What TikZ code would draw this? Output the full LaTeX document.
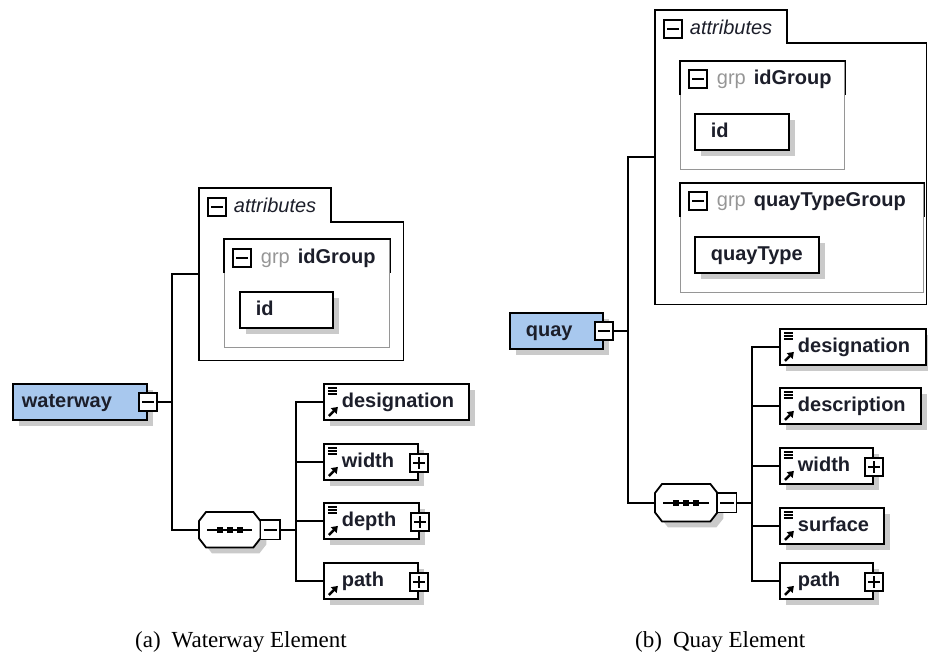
\documentclass[tikz,border=0pt]{standalone}
\usepackage{fontspec}
\setmainfont{Liberation Serif}
\setsansfont{Liberation Sans}
\usetikzlibrary{positioning}
\usetikzlibrary{shadows}
\usetikzlibrary{arrows.meta}

\definecolor{elemblue}{RGB}{168,200,238}
\definecolor{shadowgray}{RGB}{202,202,202}
\definecolor{grpgray}{RGB}{150,150,150}
\definecolor{ink}{RGB}{28,30,42}
\newcommand\xsdfont{\sffamily\fontsize{20}{24}\selectfont}

\tikzset{
  shadowed/.style={drop shadow={shadow xshift=6pt, shadow yshift=-6pt, fill=shadowgray, opacity=1}},
  xsdbox/.style={draw=black, line width=1.8pt, fill=white, anchor=north west,
    inner xsep=0pt, inner ysep=0pt, text width=#1, align=left,
    minimum height=36pt, text height=15pt, text depth=4pt,
    font=\xsdfont\bfseries, text=ink, shadowed},
  rootbox/.style={xsdbox=#1, fill=elemblue},
  attrbox/.style={xsdbox=#1, execute at begin node=\hspace*{16pt}},
  refbox/.style={xsdbox=#1, execute at begin node=\hspace*{18pt},
    path picture={
      \draw[black, line width=2.4pt, -{Triangle[length=6pt,width=8pt]}]
        ([xshift=5pt,yshift=4pt]path picture bounding box.south west) -- ++(9,-9);
    }},
  leafbox/.style={xsdbox=#1, execute at begin node=\hspace*{18pt},
    path picture={
      \foreach \k in {4,7,10}
        \draw[black, line width=1.2pt] ([xshift=4pt]path picture bounding box.north west) ++(0,\k) -- ++(9,0);
      \draw[black, line width=2.4pt, -{Triangle[length=6pt,width=8pt]}]
        ([xshift=5pt,yshift=4pt]path picture bounding box.south west) -- ++(9,-9);
    }},
  pmbox/.style={draw=black, line width=1.5pt, fill=white, minimum size=18pt, inner sep=0pt},
  minusbox/.style={pmbox, path picture={
      \draw[black, line width=1.5pt] ([xshift=3pt]path picture bounding box.west) -- ([xshift=-3pt]path picture bounding box.east);}},
  plusbox/.style={pmbox, path picture={
      \draw[black, line width=1.5pt] ([xshift=3pt]path picture bounding box.west) -- ([xshift=-3pt]path picture bounding box.east)
        ([yshift=3pt]path picture bounding box.south) -- ([yshift=-3pt]path picture bounding box.north);}},
  grpbox/.style={draw=grpgray, line width=1.4pt, anchor=north west, inner sep=0pt},
  area/.style={anchor=north west, inner sep=0pt},
  seqbox/.style={anchor=north west, inner sep=0pt, minimum height=36pt, minimum width=62pt},
  hdr/.style={inner sep=0pt, font=\xsdfont, text=ink, text height=15pt, text depth=4pt},
  conn/.style={black, line width=1.8pt},
  frame/.style={black, line width=1.8pt},
  caption/.style={anchor=base west, inner sep=0pt, text=black, font=\fontsize{23}{27}\selectfont}
}

\begin{document}
\begin{tikzpicture}[x=1pt, y=-1pt]
\useasboundingbox (0,0) rectangle (928,653);

% ---------------- (a) waterway
\node[rootbox=134] (waterway) at (12,383) {\hspace*{9pt}waterway};
\node[minusbox] (wwminus) at (waterway.east) {};

\node[area, minimum width=204pt, minimum height=172pt] (watt) at (199,188) {};
\draw[frame] (watt.south west) -- (watt.north west) -- ++(132,0) -- ++(0,34) -| (watt.south east) -- cycle;
\node[minusbox] (wattm) at ([xshift=18pt,yshift=-19pt]watt.north west) {};
\node[hdr, right=7pt of wattm, font=\xsdfont\itshape] (wattt) {attributes};

\node[grpbox, minimum width=165pt, minimum height=108pt] (wgrp) at (224,239) {};
\draw[frame] ([yshift=-34pt]wgrp.north west) -- (wgrp.north west) -- (wgrp.north east) -- ++(0,34);
\node[minusbox] (wgrpm) at ([xshift=18pt,yshift=-19pt]wgrp.north west) {};
\node[hdr, right=9pt of wgrpm] (wgrpt) {\textcolor{grpgray}{grp}\hspace{8pt}\textbf{idGroup}};
\node[attrbox=93] (wid) at (239,291) {id};

\node[seqbox, minimum width=61pt, minimum height=35pt] (wseq) at (199,512) {};

\foreach \n/\y/\w/\t in {wdesig/383/145/designation, wwidth/443/94/width, wdepth/502/95/depth}
  \node[leafbox=\w] (\n) at (323,\y) {\t};
\node[refbox=94] (wpath) at (323,562) {path};
\foreach \n in {wwidth,wdepth,wpath}
  \node[plusbox] (\n-p) at ([yshift=-1pt]\n.east) {};

% ---------------- (b) quay
\node[rootbox=93] (quay) at (509,312) {\hspace*{16pt}quay};
\node[minusbox] (qminus) at (quay.east) {};

\node[area, minimum width=271pt, minimum height=294pt] (qatt) at (655,10) {};
\draw[frame] (qatt.south west) -- (qatt.north west) -- ++(132,0) -- ++(0,33) -| (qatt.south east) -- cycle;
\node[minusbox] (qattm) at ([xshift=18pt,yshift=-19pt]qatt.north west) {};
\node[hdr, right=7pt of qattm, font=\xsdfont\itshape] (qattt) {attributes};

\node[grpbox, minimum width=164pt, minimum height=108pt] (qgrp) at (680,61) {};
\draw[frame] ([yshift=-34pt]qgrp.north west) -- (qgrp.north west) -- (qgrp.north east) -- ++(0,34);
\node[minusbox] (qgrpm) at ([xshift=18pt,yshift=-18pt]qgrp.north west) {};
\node[hdr, right=9pt of qgrpm] (qgrpt) {\textcolor{grpgray}{grp}\hspace{8pt}\textbf{idGroup}};
\node[attrbox=94] (qid) at (694,113) {id};

\node[grpbox, minimum width=243pt, minimum height=109pt] (qtgrp) at (680,183) {};
\draw[frame] ([yshift=-34pt]qtgrp.north west) -- (qtgrp.north west) -- (qtgrp.north east) -- ++(0,34);
\node[minusbox] (qtgrpm) at ([xshift=18pt,yshift=-18pt]qtgrp.north west) {};
\node[hdr, right=9pt of qtgrpm] (qtgrpt) {\textcolor{grpgray}{grp}\hspace{8pt}\textbf{quayTypeGroup}};
\node[attrbox=124] (qtype) at (694,236) {quayType};

\node[seqbox, minimum width=62pt, minimum height=37pt] (qseq) at (655,484) {};

\foreach \n/\y/\w/\t in {qdesig/328/146/designation, qdescr/387/141/description, qwidth/447/93/width, qsurf/507/104/surface}
  \node[leafbox=\w] (\n) at (779,\y) {\t};
\node[refbox=93] (qpath) at (779,562) {path};
\foreach \n in {qwidth,qpath}
  \node[plusbox] (\n-p) at ([yshift=-1pt]\n.east) {};

% sequence compositors
\foreach \s in {wseq,qseq}{
  \draw[frame, fill=white, shadowed] ([xshift=7pt]\s.north west) -- ([xshift=-7pt]\s.north east)
    -- ([yshift=-9pt]\s.north east) -- ([yshift=9pt]\s.south east) -- ([xshift=-7pt]\s.south east)
    -- ([xshift=7pt]\s.south west) -- ([yshift=9pt]\s.south west) -- ([yshift=-9pt]\s.north west) -- cycle;
  \draw[black, line width=1.6pt] ([xshift=8pt]\s.west) -- ([xshift=-8pt]\s.east);
  \foreach \d in {-10,0,10}
    \fill[black] ([xshift=\d pt]\s.center) +(-2.8,-2.8) rectangle +(2.8,2.8);
}
\node[pmbox, draw=none, fill=none] (wseqm) at ([xshift=10pt]wseq.east) {};
\node[pmbox, draw=none, fill=none] (qseqm) at ([xshift=9.5pt]qseq.east) {};
\foreach \m in {wseqm,qseqm}{
  \draw[black, line width=1.6pt, fill=white] (\m.north west) rectangle (\m.south east);
  \draw[black, line width=1.6pt] ([xshift=3pt]\m.west) -- ([xshift=-3pt]\m.east);
}

% connectors
\coordinate (wfork) at (172,0);
\coordinate (wsfork) at (296,0);
\draw[conn] (wwminus.east) -| (wfork |- watt.west) -- (watt.west);
\draw[conn] (wwminus.east -| wfork) |- (wseq.west);
\draw[conn] (wseqm.east) -- (wseqm.east -| wsfork);
\draw[conn] (wdesig.west) -| (wsfork |- wpath.west) -- (wpath.west);
\foreach \n in {wwidth,wdepth}
  \draw[conn] (\n.west) -- (\n.west -| wsfork);

\coordinate (qfork) at (628,0);
\coordinate (qsfork) at (752,0);
\draw[conn] (qminus.east) -| (qfork |- qatt.west) -- (qatt.west);
\draw[conn] (qminus.east -| qfork) |- (qseq.west);
\draw[conn] (qseqm.east) -- (qseqm.east -| qsfork);
\draw[conn] (qdesig.west) -| (qsfork |- qpath.west) -- (qpath.west);
\foreach \n in {qdescr,qwidth,qsurf}
  \draw[conn] (\n.west) -- (\n.west -| qsfork);

% captions
\node[caption] (capa) at (135,647) {(a)\hspace{11pt}Waterway Element};
\node[caption] (capb) at (635,647) {(b)\hspace{11pt}Quay Element};

\end{tikzpicture}
\end{document}
